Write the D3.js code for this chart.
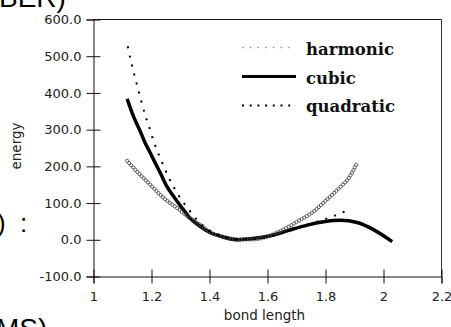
<!DOCTYPE html>
<html>
<head>
<meta charset="utf-8">
<script src="https://cdn.jsdelivr.net/npm/d3@7/dist/d3.min.js"></script>
<style>
  html, body { margin: 0; padding: 0; background: #fff; overflow: hidden; }
  svg { display: block; }
</style>
</head>
<body>
<svg id="chart" width="451" height="327"></svg>
<script>
// ---- data ----
const harmonicX = [1.116, 1.151, 1.197, 1.243, 1.289, 1.334, 1.369, 1.40, 1.45, 1.50, 1.55, 1.60, 1.662, 1.708, 1.754, 1.80, 1.846, 1.88, 1.907];
const harmonicY = [215, 185, 149, 113, 86, 58, 40, 22, 8, 1, 1, 9, 31, 52, 74, 106, 140, 168, 206];

const cubicX = [1.116, 1.139, 1.162, 1.179, 1.191, 1.208, 1.231, 1.254, 1.277, 1.306, 1.334, 1.369, 1.403, 1.449, 1.495, 1.535, 1.576, 1.622, 1.679, 1.737, 1.794, 1.852, 1.909, 1.967, 2.030];
const cubicY = [384, 334, 294, 262, 244, 217, 181, 144, 117, 86, 58, 36, 19, 7, 0, 2, 6, 13, 27, 40, 49, 53, 47, 27, -5];

const quadX = [1.118, 1.131, 1.148, 1.163, 1.179, 1.190, 1.209, 1.233, 1.261, 1.291, 1.323, 1.36, 1.40, 1.45, 1.50, 1.55, 1.60, 1.65, 1.70, 1.75, 1.79, 1.823, 1.852, 1.880];
const quadY = [527, 480, 428, 382, 338, 312, 265, 217, 167, 124, 88, 52, 26, 9, 1, 2, 8, 18, 31, 44, 54, 63, 72, 83];

const seriesNames = ["harmonic", "cubic", "quadratic"];
const xTicks = [1, 1.2, 1.4, 1.6, 1.8, 2, 2.2];
const xTickLabels = ["1", "1.2", "1.4", "1.6", "1.8", "2", "2.2"];
const yTicks = [-100, 0, 100, 200, 300, 400, 500, 600];
const yTickLabels = ["-100.0", "0.0", "100.0", "200.0", "300.0", "400.0", "500.0", "600.0"];
const xTitle = "bond length";
const yTitle = "energy";

// ---- layout ----
const svg = d3.select("#chart");
const mLeft = 93.5, mRight = 441.5, mTop = 19.5, mBottom = 276.5;
const x = d3.scaleLinear().domain([1, 2.2]).range([mLeft, mRight]);
const y = d3.scaleLinear().domain([-100, 600]).range([mBottom, mTop]);
const axisFont = "'DejaVu Sans', sans-serif";
const slideFont = "'Liberation Sans', Arial, sans-serif";

// slide text fragments around the chart
svg.append("text").attr("x", -1).attr("y", 7).attr("font-family", slideFont)
  .attr("font-size", 28).attr("fill", "#000").text("BER)");
svg.append("text").attr("x", -3).attr("y", 232).attr("font-family", slideFont)
  .attr("font-size", 26).attr("fill", "#000").text(")");
svg.append("text").attr("x", 20).attr("y", 232).attr("font-family", slideFont)
  .attr("font-size", 26).attr("fill", "#000").text(":");
svg.append("text").attr("x", -4).attr("y", 338).attr("font-family", slideFont)
  .attr("font-size", 28).attr("fill", "#000").text("MS)");

// frame (top and right)
svg.append("line").attr("x1", mLeft).attr("x2", mRight).attr("y1", mTop).attr("y2", mTop).attr("stroke", "#111");
svg.append("line").attr("x1", mRight).attr("x2", mRight).attr("y1", mTop).attr("y2", mBottom).attr("stroke", "#333");

// axes
const yAxis = d3.axisLeft(y).tickValues(yTicks).tickFormat((d, i) => yTickLabels[i]).tickSize(7).tickPadding(5);
const gy = svg.append("g").attr("transform", `translate(${mLeft},0)`).call(yAxis);
gy.select(".domain").attr("stroke", "#111");
gy.selectAll(".tick line").attr("x1", 7).attr("stroke", "#111");
gy.selectAll(".tick text").attr("font-family", axisFont).attr("font-size", 13).attr("fill", "#222");

const xAxis = d3.axisBottom(x).tickValues(xTicks).tickFormat((d, i) => xTickLabels[i]).tickSize(7).tickPadding(8);
const gx = svg.append("g").attr("transform", `translate(0,${mBottom})`).call(xAxis);
gx.select(".domain").attr("stroke", "#111");
gx.selectAll(".tick line").attr("y1", -7).attr("stroke", "#111");
gx.selectAll(".tick text").attr("font-family", axisFont).attr("font-size", 13).attr("fill", "#222");

// axis titles
svg.append("text").attr("x", (mLeft + mRight) / 2 - 3).attr("y", 320).attr("text-anchor", "middle")
  .attr("font-family", axisFont).attr("font-size", 13.5).attr("fill", "#222").text(xTitle);
svg.append("text").attr("transform", "translate(21,146) rotate(-90)").attr("text-anchor", "middle")
  .attr("font-family", axisFont).attr("font-size", 13.5).attr("fill", "#222").text(yTitle);

// series
const line = d3.line().x(d => x(d[0])).y(d => y(d[1])).curve(d3.curveMonotoneX);
const harmonic = d3.zip(harmonicX, harmonicY);
const cubic = d3.zip(cubicX, cubicY);
const quad = d3.zip(quadX, quadY);

// cubic: thick solid
svg.append("path").datum(cubic).attr("d", line).attr("fill", "none")
  .attr("stroke", "#000").attr("stroke-width", 3.5).attr("stroke-linejoin", "round");

// harmonic: chain of hollow circle markers along the curve
const hp = svg.append("path").datum(harmonic).attr("d", line).attr("fill", "none").attr("stroke", "none");
const hNode = hp.node();
const hLen = hNode.getTotalLength();
const hPts = d3.range(0, hLen, 3).map(l => hNode.getPointAtLength(l));
svg.append("g").selectAll("circle").data(hPts).join("circle")
  .attr("cx", p => p.x).attr("cy", p => p.y).attr("r", 1.6)
  .attr("fill", "none").attr("stroke", "#444").attr("stroke-width", 0.8);

// quadratic: dotted
svg.append("path").datum(quad).attr("d", line).attr("fill", "none")
  .attr("stroke", "#000").attr("stroke-width", 2).attr("stroke-dasharray", "2,7.3");

// legend
const legendY = [47.5, 76.5, 105.5];
const legendBase = [55, 84, 112];
const lg = svg.append("g");
lg.append("line").attr("x1", 242).attr("x2", 296).attr("y1", legendY[0]).attr("y2", legendY[0])
  .attr("stroke", "#999").attr("stroke-width", 1.6).attr("stroke-dasharray", "1.6,6.1");
lg.append("line").attr("x1", 242).attr("x2", 296).attr("y1", legendY[1]).attr("y2", legendY[1])
  .attr("stroke", "#000").attr("stroke-width", 3);
lg.append("line").attr("x1", 242).attr("x2", 296).attr("y1", legendY[2]).attr("y2", legendY[2])
  .attr("stroke", "#000").attr("stroke-width", 2).attr("stroke-dasharray", "2,5.7");
lg.selectAll("text").data(seriesNames).join("text")
  .attr("x", 306).attr("y", (d, i) => legendBase[i])
  .attr("font-family", "'DejaVu Serif', serif").attr("font-weight", "bold").attr("font-size", 16.5)
  .attr("fill", "#111").text(d => d);
</script>
</body>
</html>
